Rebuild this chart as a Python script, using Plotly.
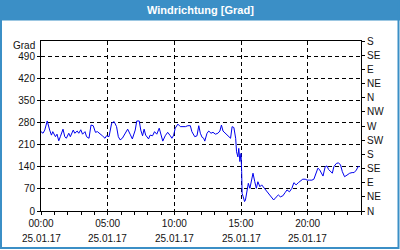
import plotly.graph_objects as go

# ---- data ----
date = "2017-01-25"
times = ["00:00","00:09","00:17","00:28","00:39","00:47","00:53","01:05","01:12","01:20",
         "01:27","01:39","01:47","01:54","02:05","02:12","02:25","02:32","02:43","02:50",
         "02:59","03:07","03:18","03:25","03:36","03:45","03:55","04:05","04:14","04:25",
         "04:36","04:48","04:55","05:06","05:18","05:29","05:40","05:48","05:56","06:06",
         "06:18","06:30","06:41","06:51","07:04","07:11","07:22","07:29","07:37","07:44",
         "07:51","08:04","08:11","08:22","08:31","08:41","08:52","09:01","09:08","09:19",
         "09:30","09:42","09:49","09:57","10:04","10:16","10:27","10:39","10:50","11:01",
         "11:12","11:19","11:32","11:42","11:50","11:57","12:05","12:12","12:17","12:27",
         "12:35","12:45","12:54","13:05","13:16","13:25","13:32","13:39","13:50","14:02",
         "14:13","14:20","14:28","14:36","14:40","14:46","14:50","14:55","15:00","15:03",
         "15:05","15:10","15:16","15:20","15:25","15:33","15:40","15:48","15:54","16:02",
         "16:09","16:16","16:25","16:33","16:40","16:48","16:57","17:07","17:18","17:27",
         "17:38","17:48","17:57","18:08","18:18","18:27","18:38","18:49","18:58","19:08",
         "19:18","19:28","19:38","19:49","19:58","20:08","20:19","20:28","20:38","20:46",
         "20:53","21:01","21:09","21:19","21:27","21:34","21:42","21:51","21:58","22:09",
         "22:19","22:28","22:36","22:46","22:57","23:09","23:20","23:29","23:39","23:47",
         "23:54"]
direction = [252,247,257,286,257,241,252,236,244,223,
             236,260,236,231,247,236,257,247,254,247,
             258,244,252,236,231,273,271,250,252,244,
             239,231,239,236,279,284,268,236,226,231,
             247,260,244,229,257,286,286,257,239,260,
             241,229,241,239,252,244,263,239,222,239,
             250,239,231,241,263,276,268,268,268,271,
             271,252,236,239,271,247,234,231,222,247,
             254,247,250,244,247,254,273,254,247,241,
             231,268,265,231,188,172,199,157,183,125,
             56,45,30,35,61,88,72,104,120,93,
             72,93,77,83,77,67,59,51,44,35,
             44,51,45,48,58,67,61,72,90,83,
             90,96,101,101,98,98,98,101,120,136,
             132,120,111,141,143,132,125,120,141,151,
             153,146,125,109,114,120,122,122,130,141,
             141]

left_ticks = [0, 70, 140, 210, 280, 350, 420, 490]
right_ticks = [0, 45, 90, 135, 180, 225, 270, 315, 360, 405, 450, 495, 540]
right_labels = ["N", "NE", "E", "SE", "S", "SW", "W", "NW", "N", "NE", "E", "SE", "S"]
x_ticks = ["00:00", "05:00", "10:00", "15:00", "20:00"]
x_date_label = "25.01.17"
title = "Windrichtung [Grad]"
unit = "Grad"

# ---- figure ----
W, H = 400, 250
L, R, T, B = 41, 39, 41, 39
pw, ph = W - L - R, H - T - B
def px(x): return (x - L) / pw
def py(y): return (H - B - y) / ph

FONT = "Liberation Sans"
TXT = "#111111"
BLUE = "#3b8fc6"

xs = [f"{date} {t}" for t in times]

fig = go.Figure()
fig.add_trace(go.Scatter(x=xs, y=direction, mode="lines",
                         line=dict(color="#0000ee", width=1), showlegend=False,
                         hoverinfo="skip"))
# invisible trace for right axis
fig.add_trace(go.Scatter(x=[xs[0]], y=[0], yaxis="y2", mode="markers",
                         marker=dict(opacity=0), showlegend=False, hoverinfo="skip"))

tickvals_x = [f"{date} {t}" for t in x_ticks]

fig.update_layout(
    width=W, height=H,
    margin=dict(l=L, r=R, t=T, b=B),
    paper_bgcolor="white", plot_bgcolor="white",
    font=dict(family=FONT, size=10, color=TXT),
    xaxis=dict(
        type="date",
        range=[f"{date} 00:00", "2017-01-26 00:00"],
        tickvals=tickvals_x, ticktext=x_ticks,
        ticks="outside", ticklen=3, tickcolor="black", tickwidth=1,
        minor=dict(dtick=3600000, ticks="outside", ticklen=3, tickcolor="black", showgrid=False),
        showgrid=True, gridcolor="black", gridwidth=1, griddash="4px,3px",
        showline=True, linecolor="black", linewidth=1, mirror=True,
        zeroline=False, tickfont=dict(size=10, color=TXT),
    ),
    yaxis=dict(
        range=[0, 540], tickvals=left_ticks,
        ticks="outside", ticklen=3, tickcolor="black",
        showgrid=True, gridcolor="black", gridwidth=1, griddash="4px,3px",
        showline=True, linecolor="black", linewidth=1, mirror=True,
        zeroline=False, tickfont=dict(size=10, color=TXT),
    ),
    yaxis2=dict(
        range=[0, 540], tickvals=right_ticks, ticktext=right_labels,
        overlaying="y", side="right",
        ticks="outside", ticklen=3, tickcolor="black",
        showgrid=False, zeroline=False, showline=False,
        tickfont=dict(size=10, color=TXT),
    ),
    shapes=[
        dict(type="rect", xref="paper", yref="paper",
             x0=px(0), x1=px(W), y0=py(20.5), y1=py(0),
             fillcolor=BLUE, line=dict(width=0)),
        dict(type="rect", xref="paper", yref="paper",
             x0=px(1), x1=px(398.5), y0=py(248), y1=py(1),
             fillcolor="rgba(0,0,0,0)", line=dict(color=BLUE, width=2)),
    ],
)

ann = [
    dict(text=f"<b>{title}</b>", xref="paper", yref="paper", x=px(W / 2), y=py(10.5),
         xanchor="center", yanchor="middle", showarrow=False,
         font=dict(family=FONT, size=11, color="white")),
    dict(text=unit, xref="paper", yref="paper", x=px(37), y=py(45),
         xanchor="right", yanchor="middle", showarrow=False,
         font=dict(family=FONT, size=10, color=TXT)),
]
for tv in tickvals_x:
    ann.append(dict(text=x_date_label, xref="x", yref="paper", x=tv, y=0,
                    yshift=-(238 - (H - B)), xanchor="center", yanchor="middle",
                    showarrow=False, font=dict(family=FONT, size=10, color=TXT)))
fig.update_layout(annotations=ann)

fig.write_html("out.html")
